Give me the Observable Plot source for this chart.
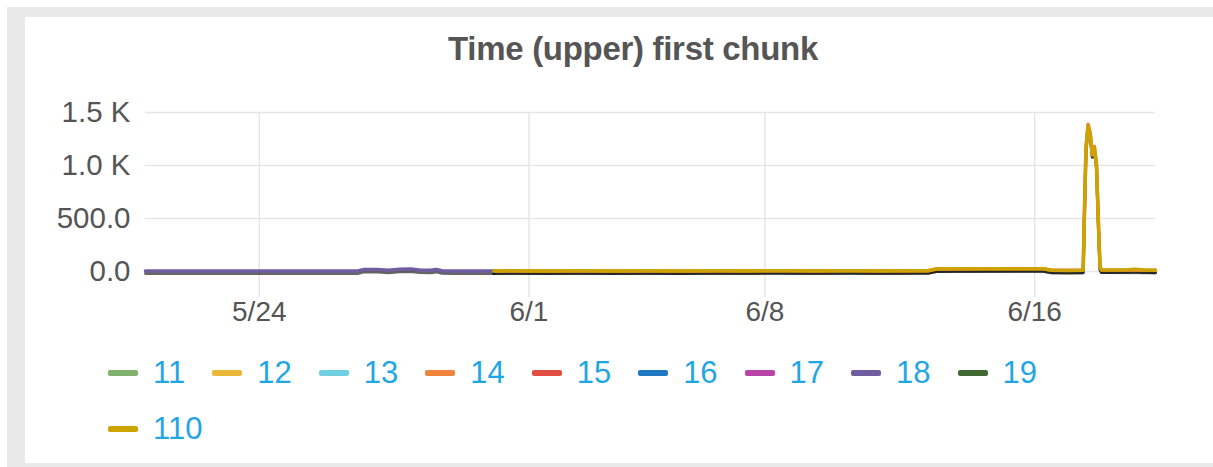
<!DOCTYPE html>
<html>
<head>
<meta charset="utf-8">
<script src="https://cdn.jsdelivr.net/npm/d3@7"></script>
<script src="https://cdn.jsdelivr.net/npm/@observablehq/plot@0.6"></script>
<style>
  html, body { margin: 0; padding: 0; background: #fff; }
  body { width: 1213px; height: 467px; position: relative; overflow: hidden; font-family: "Liberation Sans", Arial, sans-serif; }
  #frame { position: absolute; left: 7px; top: 7px; width: 1206px; height: 460px; background: #e9e9e9; }
  #panel { position: absolute; left: 25px; top: 17px; width: 1188px; height: 446px; background: #fff; }
  #title { position: absolute; left: 0; width: 1266px; top: 30px; text-align: center; font-weight: bold; font-size: 33px; color: #555; letter-spacing: -0.3px; }
  #chart { position: absolute; left: 25px; top: 90px; }
  #legend { position: absolute; left: 108px; top: 354px; width: 1000px; display: flex; flex-wrap: wrap; row-gap: 18px; }
  .item { display: flex; align-items: center; margin-right: 27px; height: 38px; }
  .sw { width: 30px; height: 6px; border-radius: 2px; margin-right: 15px; }
  .lab { font-size: 31px; color: #1fa6e4; }
</style>
</head>
<body>
<div id="frame"></div>
<div id="panel"></div>
<div id="title">Time (upper) first chunk</div>
<div id="chart"></div>
<div id="legend"></div>
<script>
// Series names and colours (legend order)
const seriesNames = ["11", "12", "13", "14", "15", "16", "17", "18", "19", "110"];
const seriesColors = ["#7eb26d", "#eab839", "#6ed0e0", "#ef843c", "#e24d42", "#1f78c1", "#ba43a9", "#705da0", "#3f6833", "#cca300"];

// X tick dates and labels
const xTicks = ["2018-05-24T00:00", "2018-06-01T00:00", "2018-06-08T00:00", "2018-06-16T00:00"];
const xTickLabels = ["5/24", "6/1", "6/8", "6/16"];
const yTicks = [0, 500, 1000, 1500];
const xStart = "2018-05-20T15:00";
const xEnd = "2018-06-19T14:00";

// Series 18 (purple)
const s18Times = ["05-20T15:00","05-21T06:00","05-21T18:00","05-22T12:00","05-23T06:00","05-24T00:00","05-24T18:00","05-25T12:00","05-26T06:00","05-26T22:00","05-27T02:00","05-27T12:00","05-27T20:00","05-28T04:00","05-28T12:00","05-28T18:00","05-29T02:00","05-29T06:00","05-29T10:00","05-29T18:00","05-30T08:00","05-30T23:00"];
const s18Values = [6,5,6,5,6,5,6,5,6,5,18,20,12,22,24,14,12,20,8,6,5,6];

// Series 14 (orange) - mostly hidden under 110, peeks at spike top
const s14Times = ["05-30T23:00","06-05T12:00","06-12T20:00","06-13T02:00","06-16T06:00","06-16T12:00","06-17T10:30","06-17T11:30","06-17T12:30","06-17T14:00","06-17T15:30","06-17T17:00","06-17T18:30","06-17T20:00","06-17T21:30","06-17T22:30","06-17T23:30","06-19T14:00"];
const s14Values = [6,6,8,24,26,12,12,620,1170,1390,1310,1110,1180,1010,410,40,15,12];

// Series 110 (gold)
const s110Times = ["05-30T23:00","05-31T12:00","06-01T12:00","06-02T12:00","06-03T12:00","06-04T12:00","06-05T12:00","06-06T12:00","06-07T12:00","06-08T12:00","06-09T12:00","06-10T12:00","06-11T12:00","06-12T12:00","06-12T20:00","06-13T02:00","06-13T18:00","06-14T12:00","06-15T00:00","06-15T12:00","06-16T06:00","06-16T12:00","06-17T00:00","06-17T10:30","06-17T11:30","06-17T12:30","06-17T14:00","06-17T15:30","06-17T17:00","06-17T18:30","06-17T20:00","06-17T21:30","06-17T22:30","06-17T23:30","06-18T06:00","06-18T18:00","06-19T00:00","06-19T06:00","06-19T14:00"];
const s110Values = [6,7,6,7,6,7,6,7,6,7,6,7,6,7,8,24,26,25,27,25,26,12,10,12,600,1150,1370,1300,1100,1160,1000,400,40,15,14,16,22,15,12];

const parse = s => new Date(s.length > 12 ? s + ":00Z" : "2018-" + s + ":00Z");
const mk = (name, times, values) => times.map((t, i) => ({series: name, t: parse(t), v: values[i]}));
const rows = [
  ...mk("14", s14Times, s14Values),
  ...mk("18", s18Times, s18Values),
  ...mk("110", s110Times, s110Values)
];

const tickDates = xTicks.map(parse);
const fmtY = v => v >= 1000 ? (v / 1000).toFixed(1) + " K" : v.toFixed(1);

const chart = Plot.plot({
  width: 1188,
  height: 250,
  marginLeft: 120,
  marginRight: 58,
  marginTop: 22,
  marginBottom: 43,
  style: {fontFamily: "Liberation Sans, Arial, sans-serif", fontSize: "28px", color: "#555", background: "transparent"},
  x: {type: "utc", domain: [parse(xStart), parse(xEnd)], label: null},
  y: {domain: [-245, 1500], label: null},
  color: {domain: seriesNames, range: seriesColors},
  marks: [
    Plot.gridX(tickDates, {stroke: "#e6e6e6", strokeOpacity: 1, strokeWidth: 1.5}),
    Plot.gridY(yTicks, {stroke: "#e6e6e6", strokeOpacity: 1, strokeWidth: 1.5}),
    Plot.axisX(tickDates, {label: null, tickSize: 0, tickPadding: 4, tickFormat: d => xTickLabels[tickDates.findIndex(x => +x === +d)], fill: "#555", fontSize: 28}),
    Plot.axisY(yTicks, {label: null, tickSize: 0, tickPadding: 15, tickFormat: fmtY, fill: "#555", fontSize: 29.5, style: {letterSpacing: "0.8px"}}),
    Plot.line(rows, {x: "t", y: "v", z: "series", stroke: "#000", strokeOpacity: 0.6, strokeWidth: 3, dy: 2.5, curve: "linear"}),
    Plot.line(rows, {x: "t", y: "v", z: "series", stroke: "series", strokeWidth: 3.5, curve: "linear"})
  ]
});
document.getElementById("chart").appendChild(chart);

const legend = document.getElementById("legend");
seriesNames.forEach((n, i) => {
  const it = document.createElement("div");
  it.className = "item";
  it.innerHTML = `<div class="sw" style="background:${seriesColors[i]}"></div><span class="lab">${n}</span>`;
  legend.appendChild(it);
});
</script>
</body>
</html>
